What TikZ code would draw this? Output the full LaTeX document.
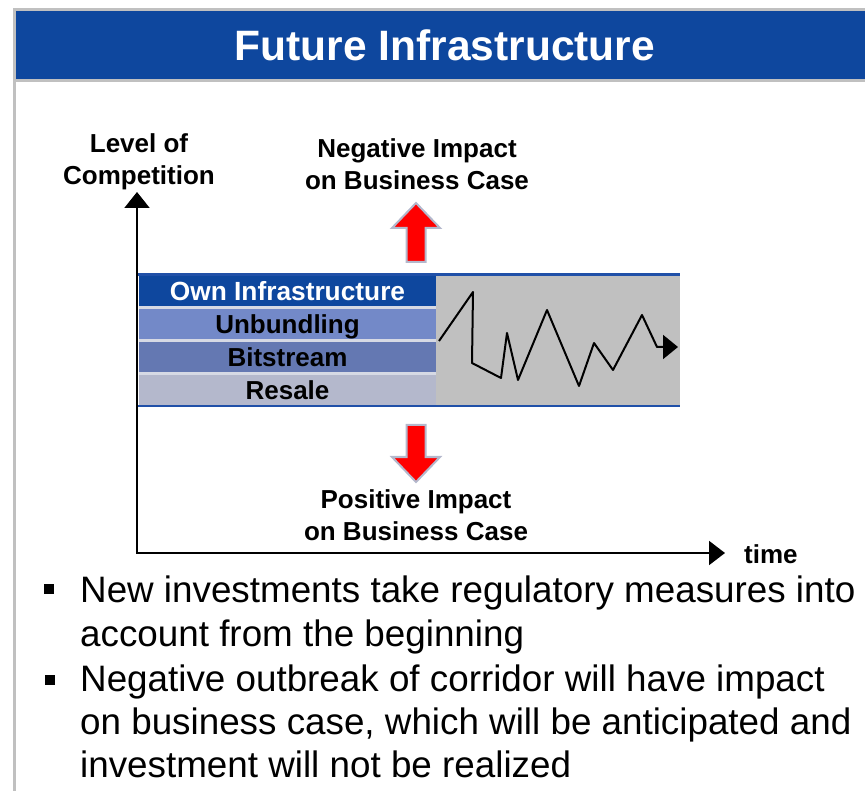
\documentclass[tikz,border=0pt]{standalone}
\usepackage{fontspec}
\setmainfont{Liberation Sans}
\usetikzlibrary{arrows.meta,positioning}
\definecolor{headblue}{RGB}{14,71,158}
\definecolor{bandblue}{RGB}{32,80,168}
\definecolor{unbundblue}{RGB}{115,137,200}
\definecolor{bitblue}{RGB}{100,120,178}
\definecolor{resalegray}{RGB}{180,184,204}
\definecolor{zonegray}{RGB}{192,192,192}
\definecolor{gapgray}{RGB}{214,217,228}
\definecolor{framegray}{RGB}{192,192,192}
\definecolor{arrowgray}{RGB}{180,184,204}
\begin{document}
\begin{tikzpicture}[x=1pt,y=-1pt,
        row box/.style={minimum width=297pt, minimum height=30pt, inner sep=0pt, outer sep=0pt,
                        text height=21pt, text depth=1pt, font=\fontsize{26}{31}\selectfont\bfseries},
        label text/.style={align=center, anchor=base, inner sep=0pt, font=\fontsize{26}{32}\selectfont\bfseries},
        axis line/.style={line width=2pt, {Triangle[length=16pt,width=25pt]}-{Triangle[length=16pt,width=24pt]}},
        red arrow/.style={fill=red, draw=arrowgray, line width=2pt},
        bullet text/.style={anchor=base west, align=left, inner sep=0pt, font=\fontsize{36.8}{44}\selectfont}]
        \useasboundingbox (0,0) rectangle (865,791);

        % frame and header
        \fill[headblue] (16,11) rectangle (865,79);
        \draw[framegray,line width=2.7pt] (14.3,791) -- (14.3,9.3) -- (865,9.3);
        \draw[framegray,line width=2.7pt] (14.3,80.3) -- (865,80.3);
        \node[anchor=base, text=white, inner sep=0pt, font=\fontsize{42.5}{50}\selectfont\bfseries]
          (title) at (445,61) {Future Infrastructure};

        % corridor
        \fill[gapgray ] (139,276) rectangle (436,405);
        \fill[zonegray] (436,276) rectangle (680,405);
        \node[row box, fill=headblue, text=white, font=\fontsize{26.3}{31}\selectfont\bfseries]
          (own) at (287.5,291) {Own Infrastructure};
        \node[row box, fill=unbundblue, below=3pt of own   ] (unbund) {Unbundling};
        \node[row box, fill=bitblue,    below=3pt of unbund] (bitstr) {Bitstream};
        \node[row box, fill=resalegray, below=3pt of bitstr] (resale) {Resale};
        \draw[bandblue,line width=2.5pt] (137,274.5) -- (680,274.5);
        \draw[bandblue,line width=2.5pt] (137,406  ) -- (680,406  );
        \draw[line width=2pt, line join=round, -{Triangle[length=15pt,width=24pt]}]
          (439,341) -- (473,292) -- (472,363) -- (501,378) -- (507,333) -- (518,380) -- (547,310)
          -- (579,386) -- (594,343) -- (613,370) -- (642,315) -- (657,347) -- (678,347);

        % axes
        \coordinate (ytip)   at (137,192);
        \coordinate (origin) at (137,553);
        \coordinate (xtip)   at (725,553);
        \draw[axis line] (ytip) -- (origin) -- (xtip);
        \node[label text] (ylabel) at (139,185) {Level of\\Competition};
        \node[label text, anchor=base west] (time) at (744,563) {time};

        % impact arrows
        \begin{scope}[shift={(416,203)}]
          \draw[red arrow] (0,0) -- (24,25) -- (9.5,25) -- (9.5,59) -- (-9.5,59) -- (-9.5,25) -- (-24,25) -- cycle;
        \end{scope}
        \begin{scope}[shift={(416,482)},yscale=-1]
          \draw[red arrow] (0,0) -- (24,25) -- (9.5,25) -- (9.5,57) -- (-9.5,57) -- (-9.5,25) -- (-24,25) -- cycle;
        \end{scope}
        \node[label text] (neg) at (417,190) {Negative Impact\\on Business Case};
        \node[label text] (pos) at (416,540) {Positive Impact\\on Business Case};

        % bullets
        \fill (43.5,584) rectangle (53.5,594);
        \fill (44.5,675) rectangle (54.5,685);
        \node[bullet text] (first)  at (80,646) {New investments take regulatory measures into\\account from the beginning};
        \node[bullet text, font=\fontsize{36.8}{43}\selectfont] (second) at (80,777)
          {Negative outbreak of corridor will have impact\\on business case, which will be anticipated and\\investment will not be realized};
\end{tikzpicture}
\end{document}
